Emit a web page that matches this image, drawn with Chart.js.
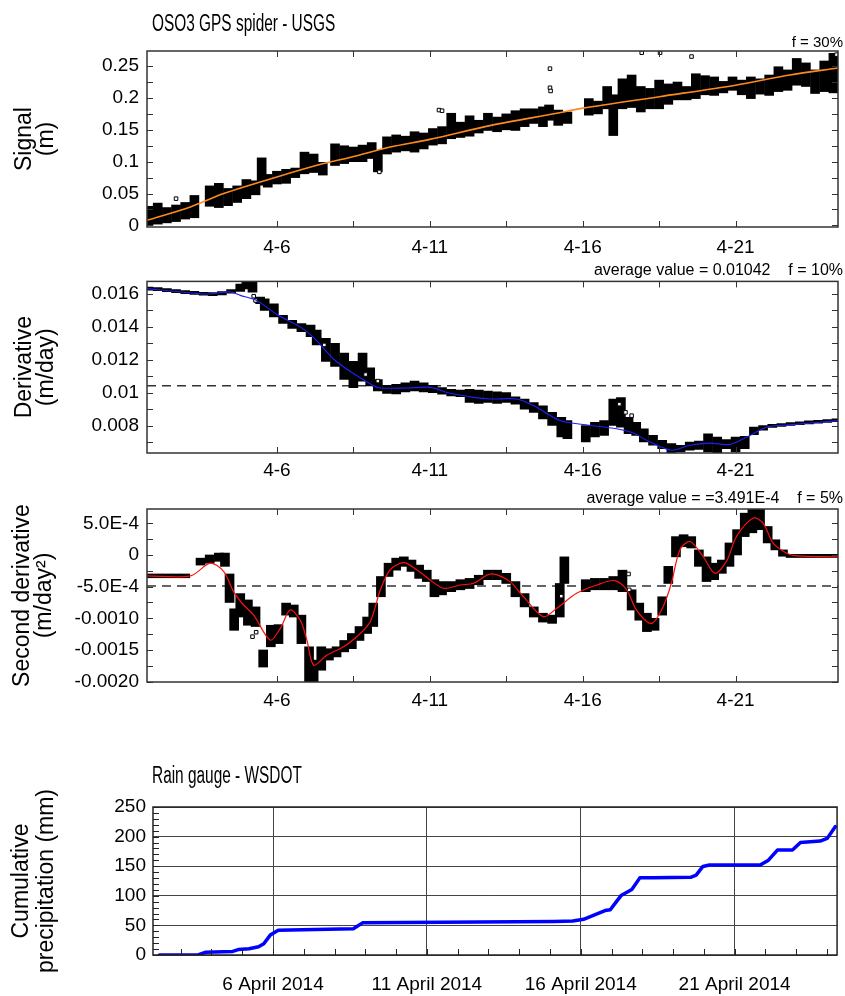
<!DOCTYPE html>
<html>
<head>
<meta charset="utf-8">
<title>OSO3 GPS spider - USGS</title>
<script src="https://cdn.jsdelivr.net/npm/chart.js@4.4.1/dist/chart.umd.min.js"></script>
<style>
  html, body { margin: 0; padding: 0; background: #fff; }
  #page { position: relative; width: 845px; height: 996px; overflow: hidden; }
  #page canvas { position: absolute; left: 0; }
</style>
</head>
<body>
<div id="page">
  <canvas id="signal-chart" width="845" height="262" style="top:0px"></canvas>
  <canvas id="derivative-chart" width="845" height="226" style="top:262px"></canvas>
  <canvas id="second-chart" width="845" height="222" style="top:488px"></canvas>
  <canvas id="rain-chart" width="845" height="286" style="top:710px"></canvas>
</div>
<script>
// time axis: day of April 2014
var gpsDayMin = 1.75, gpsDayMax = 24.35;
var rainDayMin = 2.1, rainDayMax = 24.33;
var gpsXTicks = [6, 8.5, 11, 13.5, 16, 18.5, 21];
var gpsXLabelDays = [6, 11, 16, 21];
var gpsXLabels = ['4-6', '4-11', '4-16', '4-21'];
var rainXTicks = [3, 4, 5, 6, 7, 8, 9, 10, 11, 12, 13, 14, 15, 16, 17, 18, 19, 20, 21, 22, 23, 24];
var rainXLabels = ['6 April 2014', '11 April 2014', '16 April 2014', '21 April 2014'];

// --- signal (m) ---
var signalFitDays = [1.75, 3.17, 4.26, 6.0, 7.52, 8.45, 9.7, 11.0, 13.0, 15.15, 16.0, 18.5, 21.0, 22.77, 24.35];
var signalFit = [0.008, 0.029, 0.050, 0.076, 0.097, 0.1075, 0.123, 0.135, 0.157, 0.176, 0.184, 0.202, 0.220, 0.236, 0.247];
var signalDays = [1.8, 2.1, 2.4, 2.7, 3.0, 3.3, 3.8, 4.1, 4.4, 4.7, 5.0, 5.3, 5.5, 5.7, 6.0, 6.3, 6.6, 6.9, 7.2, 7.5, 7.9, 8.2, 8.5, 8.8, 9.1, 9.3, 9.6, 9.9, 10.2, 10.5, 10.8, 11.1, 11.4, 11.7, 12.0, 12.3, 12.6, 12.9, 13.2, 13.5, 13.8, 14.1, 14.4, 14.7, 14.9, 15.2, 15.5, 16.2, 16.5, 16.8, 17.0, 17.3, 17.6, 17.9, 18.2, 18.5, 18.8, 19.1, 19.4, 19.7, 20.0, 20.3, 20.6, 20.9, 21.2, 21.5, 21.8, 22.1, 22.4, 22.7, 23.0, 23.3, 23.6, 23.9, 24.2];
var signalLow = [0.000, 0.002, 0.004, 0.006, 0.010, 0.012, 0.030, 0.028, 0.031, 0.036, 0.042, 0.048, 0.063, 0.060, 0.065, 0.066, 0.075, 0.081, 0.083, 0.079, 0.094, 0.097, 0.100, 0.100, 0.105, 0.084, 0.112, 0.115, 0.117, 0.115, 0.120, 0.126, 0.128, 0.136, 0.138, 0.140, 0.145, 0.149, 0.147, 0.150, 0.149, 0.155, 0.160, 0.155, 0.165, 0.157, 0.160, 0.173, 0.175, 0.183, 0.141, 0.183, 0.185, 0.178, 0.183, 0.183, 0.190, 0.197, 0.197, 0.199, 0.205, 0.204, 0.208, 0.212, 0.205, 0.199, 0.206, 0.204, 0.210, 0.212, 0.220, 0.218, 0.207, 0.210, 0.208];
var signalHigh = [0.030, 0.035, 0.028, 0.032, 0.036, 0.047, 0.062, 0.066, 0.058, 0.062, 0.072, 0.070, 0.106, 0.080, 0.085, 0.088, 0.090, 0.115, 0.112, 0.099, 0.128, 0.125, 0.123, 0.126, 0.130, 0.118, 0.139, 0.142, 0.140, 0.147, 0.145, 0.152, 0.155, 0.176, 0.162, 0.172, 0.165, 0.176, 0.170, 0.175, 0.180, 0.183, 0.183, 0.186, 0.189, 0.181, 0.178, 0.199, 0.195, 0.218, 0.205, 0.230, 0.236, 0.218, 0.215, 0.228, 0.222, 0.225, 0.218, 0.238, 0.235, 0.233, 0.226, 0.233, 0.228, 0.233, 0.230, 0.236, 0.249, 0.244, 0.262, 0.255, 0.244, 0.258, 0.270];
var signalOddDays = [2.7, 9.35, 11.3, 11.4, 14.93, 14.93, 14.95, 17.93, 18.53, 19.56, 24.3];
var signalOdd = [0.042, 0.084, 0.181, 0.180, 0.246, 0.216, 0.211, 0.271, 0.271, 0.265, 0.268];
var signalTicks = [0, 0.025, 0.05, 0.075, 0.1, 0.125, 0.15, 0.175, 0.2, 0.225, 0.25];
var signalLabelVals = [0, 0.05, 0.1, 0.15, 0.2, 0.25];
var signalLabels = ['0', '0.05', '0.1', '0.15', '0.2', '0.25'];

// --- derivative (m/day) ---
var derivFitDays = [1.75, 2.62, 3.71, 4.48, 4.8, 5.35, 6.0, 6.77, 7.2, 7.86, 8.45, 9.16, 9.38, 10.25, 11.01, 11.67, 12.43, 13.0, 13.84, 14.39, 15.26, 16.02, 17.11, 17.65, 18.2, 18.9, 19.5, 20.16, 20.81, 21.47, 22.01, 22.77, 24.35];
var derivFit = [0.01632, 0.01616, 0.01599, 0.01612, 0.01591, 0.01559, 0.01475, 0.01398, 0.01334, 0.01203, 0.01122, 0.01042, 0.01028, 0.01028, 0.01032, 0.00996, 0.00971, 0.00961, 0.00961, 0.00921, 0.0083, 0.00806, 0.0078, 0.00754, 0.0070, 0.0065, 0.0068, 0.00693, 0.00685, 0.0074, 0.0079, 0.00804, 0.0083];
var derivDays = [1.8, 2.1, 2.4, 2.7, 3.0, 3.3, 3.6, 3.9, 4.2, 4.5, 4.8, 5.0, 5.2, 5.45, 5.6, 5.9, 6.2, 6.5, 6.8, 7.1, 7.3, 7.6, 7.9, 8.2, 8.5, 8.8, 9.05, 9.3, 9.6, 9.9, 10.2, 10.5, 10.8, 11.1, 11.4, 11.7, 12.0, 12.3, 12.6, 12.9, 13.2, 13.5, 13.8, 14.1, 14.4, 14.7, 15.0, 15.3, 15.5, 16.1, 16.4, 16.7, 17.0, 17.25, 17.5, 17.75, 18.0, 18.3, 18.6, 18.9, 19.2, 19.5, 19.8, 20.1, 20.4, 20.7, 21.0, 21.3, 21.6, 21.9, 22.2, 22.5, 22.8, 23.1, 23.4, 23.7, 24.0, 24.3];
var derivLow = [0.01622, 0.01620, 0.01614, 0.01608, 0.01602, 0.01597, 0.01592, 0.01590, 0.01594, 0.01604, 0.01615, 0.01630, 0.01610, 0.01540, 0.01500, 0.01460, 0.01420, 0.01390, 0.01370, 0.01340, 0.01290, 0.01190, 0.01160, 0.01080, 0.01030, 0.01070, 0.01040, 0.01010, 0.00995, 0.00992, 0.01005, 0.01010, 0.01005, 0.01000, 0.00990, 0.00980, 0.00975, 0.00940, 0.00935, 0.00940, 0.00935, 0.00940, 0.00930, 0.00900, 0.00880, 0.00840, 0.00800, 0.00730, 0.00720, 0.00700, 0.00730, 0.00740, 0.00800, 0.00790, 0.00750, 0.00740, 0.00700, 0.00680, 0.00660, 0.00634, 0.00640, 0.00650, 0.00655, 0.00640, 0.00634, 0.00660, 0.00640, 0.00660, 0.00745, 0.00772, 0.00788, 0.00794, 0.00800, 0.00805, 0.00810, 0.00814, 0.00819, 0.00823];
var derivHigh = [0.01642, 0.01638, 0.01632, 0.01626, 0.01620, 0.01615, 0.01610, 0.01608, 0.01614, 0.01626, 0.01660, 0.01680, 0.01676, 0.01580, 0.01570, 0.01540, 0.01470, 0.01440, 0.01420, 0.01410, 0.01380, 0.01330, 0.01300, 0.01240, 0.01190, 0.01240, 0.01150, 0.01080, 0.01045, 0.01050, 0.01060, 0.01070, 0.01060, 0.01045, 0.01030, 0.01020, 0.01015, 0.01020, 0.01015, 0.01010, 0.01005, 0.01000, 0.00975, 0.00960, 0.00940, 0.00920, 0.00880, 0.00850, 0.00830, 0.00800, 0.00820, 0.00830, 0.00960, 0.00970, 0.00850, 0.00820, 0.00780, 0.00740, 0.00710, 0.00690, 0.00680, 0.00700, 0.00705, 0.00750, 0.00730, 0.00715, 0.00730, 0.00735, 0.00790, 0.00800, 0.00808, 0.00812, 0.00818, 0.00823, 0.00828, 0.00832, 0.00836, 0.00840];
var derivOddDays = [5.24, 5.3, 7.55, 8.9, 9.3, 17.2, 17.4, 17.6];
var derivOdd = [0.01586, 0.01560, 0.01290, 0.01110, 0.01070, 0.00930, 0.00880, 0.00860];
var derivAverage = 0.01042;
var derivTicks = [0.007, 0.008, 0.009, 0.010, 0.011, 0.012, 0.013, 0.014, 0.015, 0.016];
var derivLabelVals = [0.008, 0.010, 0.012, 0.014, 0.016];
var derivLabels = ['0.008', '0.01', '0.012', '0.014', '0.016'];

// --- second derivative, values in 1E-3 m/day^2 ---
var secondFitDays = [1.75, 3.17, 3.82, 4.26, 4.58, 4.91, 5.24, 5.78, 6.11, 6.43, 6.76, 6.98, 7.2, 7.63, 8.18, 8.61, 9.05, 9.38, 9.7, 10.14, 10.58, 11.01, 11.45, 12.0, 12.43, 13.0, 13.62, 14.06, 14.71, 15.15, 15.8, 16.46, 17.05, 17.44, 17.76, 18.25, 18.63, 18.9, 19.18, 19.51, 19.94, 20.32, 20.7, 21.03, 21.58, 21.9, 22.23, 22.67, 23.0, 24.35];
var secondFitE3 = [-0.331, -0.331, -0.13, -0.262, -0.579, -0.79, -0.949, -1.345, -1.16, -0.87, -1.028, -1.345, -1.741, -1.583, -1.45, -1.292, -1.055, -0.553, -0.236, -0.12, -0.236, -0.394, -0.526, -0.474, -0.447, -0.299, -0.421, -0.658, -0.975, -0.843, -0.606, -0.474, -0.405, -0.553, -0.87, -1.081, -0.817, -0.447, 0.081, 0.213, -0.025, -0.289, -0.104, 0.292, 0.583, 0.503, 0.186, 0.028, -0.014, -0.03];
var secondDays = [1.8, 2.1, 2.4, 2.7, 3.0, 3.5, 3.8, 4.1, 4.3, 4.45, 4.6, 4.8, 5.05, 5.3, 5.55, 5.8, 6.05, 6.3, 6.55, 6.8, 7.05, 7.2, 7.45, 7.7, 7.95, 8.2, 8.45, 8.7, 8.95, 9.15, 9.4, 9.65, 9.9, 10.15, 10.4, 10.65, 10.9, 11.15, 11.4, 11.7, 12.0, 12.3, 12.6, 12.9, 13.2, 13.5, 13.8, 14.1, 14.4, 14.7, 15.0, 15.25, 15.4, 16.1, 16.4, 16.7, 17.0, 17.3, 17.6, 17.85, 18.1, 18.35, 18.6, 18.8, 19.05, 19.3, 19.55, 19.8, 20.05, 20.3, 20.55, 20.8, 21.05, 21.3, 21.55, 21.8, 22.05, 22.3, 22.55, 22.8, 23.1, 23.4, 23.7, 24.0, 24.3];
var secondLowE3 = [-0.36, -0.36, -0.36, -0.36, -0.36, -0.16, -0.13, -0.10, -0.18, -0.75, -1.19, -0.98, -1.11, -1.13, -1.77, -1.45, -1.40, -0.95, -0.98, -1.40, -2.00, -2.00, -1.82, -1.66, -1.61, -1.53, -1.48, -1.35, -1.24, -1.13, -0.66, -0.34, -0.24, -0.18, -0.26, -0.37, -0.42, -0.66, -0.63, -0.58, -0.55, -0.53, -0.47, -0.39, -0.39, -0.45, -0.66, -0.82, -0.98, -1.06, -1.08, -0.98, -0.45, -0.58, -0.55, -0.55, -0.55, -0.58, -0.87, -1.03, -1.21, -1.19, -0.95, -0.45, -0.03, 0.13, 0.11, -0.18, -0.42, -0.39, -0.29, -0.18, 0.00, 0.29, 0.35, 0.40, 0.19, 0.08, -0.02, -0.04, -0.04, -0.04, -0.04, -0.04, -0.04];
var secondHighE3 = [-0.30, -0.30, -0.30, -0.30, -0.30, -0.05, 0.00, 0.03, 0.03, -0.30, -0.85, -0.61, -0.71, -0.82, -1.50, -1.11, -1.10, -0.76, -0.79, -0.95, -1.45, -1.66, -1.45, -1.48, -1.45, -1.35, -1.24, -1.13, -0.98, -0.76, -0.34, -0.13, -0.05, -0.03, -0.08, -0.16, -0.24, -0.39, -0.42, -0.42, -0.39, -0.37, -0.32, -0.24, -0.24, -0.29, -0.42, -0.61, -0.82, -0.92, -0.95, -0.45, -0.03, -0.39, -0.37, -0.37, -0.34, -0.24, -0.55, -0.76, -0.92, -1.00, -0.66, -0.18, 0.29, 0.32, 0.29, 0.08, -0.03, -0.13, -0.08, 0.19, 0.40, 0.66, 0.72, 0.72, 0.45, 0.24, 0.08, 0.01, 0.01, 0.01, 0.01, 0.01, 0.01];
var secondOddDays = [5.2, 5.32, 15.3, 17.5, 17.52];
var secondOddE3 = [-1.29, -1.22, -0.65, -0.30, -0.55];
var secondAverageE3 = -0.49;
var secondTicksE3 = [-2.0, -1.75, -1.5, -1.25, -1.0, -0.75, -0.5, -0.25, 0, 0.25, 0.5];
var secondLabelValsE3 = [-2.0, -1.5, -1.0, -0.5, 0, 0.5];
var secondLabels = ['-0.0020', '-0.0015', '-0.0010', '-5.0E-4', '0', '5.0E-4'];

// --- rain gauge, cumulative precipitation (mm) ---
var rainDays = [2.31, 3.56, 3.82, 4.69, 4.87, 5.22, 5.53, 5.70, 5.91, 6.17, 6.96, 8.61, 8.91, 11.48, 15.14, 15.74, 16.09, 16.35, 16.79, 16.96, 17.14, 17.31, 17.66, 17.92, 18.36, 19.57, 19.75, 19.97, 20.18, 21.83, 22.10, 22.39, 22.88, 23.14, 23.78, 24.01, 24.27];
var rainMm = [0, 0, 4.6, 6, 9.2, 10.6, 13.8, 18.9, 33.6, 41.9, 42.8, 44.2, 54.3, 55.2, 56.6, 57.5, 60.3, 65.8, 75, 76.4, 88.9, 100.4, 110.5, 130.3, 130.3, 131.2, 134.9, 149.6, 151.9, 151.9, 160.2, 177.3, 177.3, 190.1, 192.4, 197, 216.8];
var rainTicks = [0, 10, 20, 30, 40, 50, 60, 70, 80, 90, 100, 110, 120, 130, 140, 150, 160, 170, 180, 190, 200, 210, 220, 230, 240, 250];
var rainLabelVals = [0, 50, 100, 150, 200, 250];
var rainLabels = ['0', '50', '100', '150', '200', '250'];

var SANS = '"Liberation Sans", Arial, sans-serif';

function e3(list) {
    return list.map(function (v) { return v / 1000; });
}

function points(xs, ys) {
    return xs.map(function (x, i) { return {x: x, y: ys[i]}; });
}

function ranges(xs, lo, hi) {
    return xs.map(function (x, i) { return {x: x, y: [lo[i], hi[i]]}; });
}

function labelFor(vals, texts) {
    return function (value) {
        for (var i = 0; i < vals.length; i++) {
            if (Math.abs(value - vals[i]) < 1e-9) return texts[i];
        }
        return '';
    };
}

// titles and notes; sx squeezes the text sideways like the narrow face of the original
var panelText = {
    id: 'panelText',
    afterDraw: function (chart, args, opts) {
        var ctx = chart.ctx;
        (opts.items || []).forEach(function (t) {
            ctx.save();
            ctx.font = t.font;
            ctx.fillStyle = '#000';
            ctx.textAlign = t.align;
            ctx.textBaseline = 'alphabetic';
            ctx.translate(t.x, t.y);
            ctx.scale(t.sx || 1, 1);
            ctx.fillText(t.text, 0, 0);
            ctx.restore();
        });
    }
};

// frame round the plot and small inward tick marks, like the original plotting tool
var frameTicks = {
    id: 'frameTicks',
    afterDatasetsDraw: function (chart, args, opts) {
        var ctx = chart.ctx, a = chart.chartArea, xs = chart.scales.x, ys = chart.scales.y;
        var len = opts.len || 6;
        ctx.save();
        ctx.strokeStyle = opts.color || '#333';
        ctx.lineWidth = 1;
        ctx.beginPath();
        ys.ticks.forEach(function (t) {
            var py = Math.round(ys.getPixelForValue(t.value)) + 0.5;
            if (opts.left) { ctx.moveTo(a.left, py); ctx.lineTo(a.left + len, py); }
            if (opts.right) { ctx.moveTo(a.right, py); ctx.lineTo(a.right - len, py); }
        });
        xs.ticks.forEach(function (t) {
            var px = Math.round(xs.getPixelForValue(t.value)) + 0.5;
            if (opts.bottom) { ctx.moveTo(px, a.bottom); ctx.lineTo(px, a.bottom - len); }
            if (opts.top) { ctx.moveTo(px, a.top); ctx.lineTo(px, a.top + len); }
        });
        ctx.stroke();
        ctx.lineWidth = opts.width || 1.5;
        ctx.strokeRect(a.left, a.top, a.right - a.left, a.bottom - a.top);
        ctx.restore();
    }
};

function panel(canvasId, p) {
    var canvas = document.getElementById(canvasId);
    var h = canvas.height;
    var yLabel = labelFor(p.yLabelVals, p.yLabels);
    return new Chart(canvas, {
        type: 'scatter',
        data: {datasets: p.datasets},
        options: {
            responsive: false,
            animation: false,
            devicePixelRatio: 1,
            events: [],
            layout: {padding: {left: 0, right: 845 - p.area[1], top: p.area[2], bottom: 0}},
            plugins: {
                legend: {display: false},
                tooltip: {enabled: false},
                title: {display: false},
                panelText: {items: p.texts},
                frameTicks: p.frame
            },
            scales: {
                x: {
                    type: 'linear',
                    min: p.xMin,
                    max: p.xMax,
                    offset: false,
                    border: {display: false},
                    grid: {
                        display: !!p.grid, drawTicks: false, offset: false, lineWidth: 1,
                        color: function (c) {
                            return p.xLabelVals.indexOf(c.tick.value) >= 0 ? '#444' : 'rgba(0,0,0,0)';
                        }
                    },
                    ticks: {
                        autoSkip: false, maxRotation: 0, padding: p.xPad, color: '#000',
                        font: {family: SANS, size: 19},
                        callback: labelFor(p.xLabelVals, p.xLabels)
                    },
                    afterBuildTicks: function (s) {
                        s.ticks = p.xTicks.map(function (v) { return {value: v}; });
                    },
                    afterFit: function (s) { s.height = h - p.area[3]; }
                },
                y: {
                    type: 'linear',
                    min: p.yMin,
                    max: p.yMax,
                    border: {display: false},
                    grid: {
                        display: !!p.grid, drawTicks: false, lineWidth: 1,
                        color: function (c) {
                            return yLabel(c.tick.value) !== '' ? '#444' : 'rgba(0,0,0,0)';
                        }
                    },
                    ticks: {
                        autoSkip: false, padding: p.yPad, color: '#000',
                        font: {family: SANS, size: 19},
                        callback: yLabel
                    },
                    title: {
                        display: true,
                        text: p.yTitle,
                        color: '#000',
                        font: {family: SANS, size: 23, lineHeight: p.titleLine},
                        padding: {top: p.titlePad, bottom: 0}
                    },
                    afterBuildTicks: function (s) {
                        s.ticks = p.yTicks.map(function (v) { return {value: v}; });
                    },
                    afterFit: function (s) { s.width = p.area[0]; }
                }
            }
        },
        plugins: [panelText, frameTicks]
    });
}

function cloud(xs, lo, hi) {
    return {type: 'bar', data: ranges(xs, lo, hi), backgroundColor: '#000', borderWidth: 0,
        barThickness: 9, grouped: false, order: 2};
}

function odd(xs, ys) {
    return {type: 'scatter', data: points(xs, ys), pointStyle: 'rect', pointRadius: 2.5,
        backgroundColor: '#fff', borderColor: '#000', borderWidth: 1, order: 1};
}

function fit(xs, ys, color, width) {
    return {type: 'line', data: points(xs, ys), borderColor: color, borderWidth: width,
        pointRadius: 0, tension: 0.3, fill: false, order: 0};
}

function average(value) {
    return {type: 'line', data: points([gpsDayMin, gpsDayMax], [value, value]), borderColor: '#333',
        borderWidth: 1.5, borderDash: [9, 6], pointRadius: 0, fill: false, order: 3};
}

panel('signal-chart', {
    area: [147, 838, 51, 227],
    xMin: gpsDayMin, xMax: gpsDayMax, xTicks: gpsXTicks, xLabelVals: gpsXLabelDays, xLabels: gpsXLabels, xPad: 9,
    yMin: -0.0025, yMax: 0.2737, yTicks: signalTicks, yLabelVals: signalLabelVals, yLabels: signalLabels, yPad: 8,
    yTitle: ['Signal', '(m)'], titlePad: 14, titleLine: 0.95,
    frame: {left: true, right: true, top: true, bottom: true},
    texts: [
        {text: 'OSO3 GPS spider - USGS', x: 152, y: 31, align: 'left', font: '23px ' + SANS, sx: 0.67},
        {text: 'f = 30%', x: 843, y: 47, align: 'right', font: '15px ' + SANS}
    ],
    datasets: [
        fit(signalFitDays, signalFit, '#ff8a1c', 1.6),
        odd(signalOddDays, signalOdd),
        cloud(signalDays, signalLow, signalHigh)
    ]
});

panel('derivative-chart', {
    area: [147, 838, 18, 191],
    xMin: gpsDayMin, xMax: gpsDayMax, xTicks: gpsXTicks, xLabelVals: gpsXLabelDays, xLabels: gpsXLabels, xPad: 6,
    yMin: 0.00633, yMax: 0.01676, yTicks: derivTicks, yLabelVals: derivLabelVals, yLabels: derivLabels, yPad: 8,
    yTitle: ['Derivative', '(m/day)'], titlePad: 14, titleLine: 0.95,
    frame: {left: true, right: true, top: true, bottom: true},
    texts: [
        {text: 'average value = 0.01042    f = 10%', x: 843, y: 13, align: 'right', font: '16px ' + SANS}
    ],
    datasets: [
        fit(derivFitDays, derivFit, '#1f1fff', 1.1),
        odd(derivOddDays, derivOdd),
        cloud(derivDays, derivLow, derivHigh),
        average(derivAverage)
    ]
});

panel('second-chart', {
    area: [147, 838, 21, 194],
    xMin: gpsDayMin, xMax: gpsDayMax, xTicks: gpsXTicks, xLabelVals: gpsXLabelDays, xLabels: gpsXLabels, xPad: 7,
    yMin: -0.002006, yMax: 0.000726, yTicks: e3(secondTicksE3), yLabelVals: e3(secondLabelValsE3), yLabels: secondLabels, yPad: 8,
    yTitle: ['Second derivative', '(m/day\u00b2)'], titlePad: 12, titleLine: 0.95,
    frame: {left: true, right: true, top: true, bottom: true},
    texts: [
        {text: 'average value = =3.491E-4    f = 5%', x: 843, y: 15, align: 'right', font: '16px ' + SANS}
    ],
    datasets: [
        fit(secondFitDays, e3(secondFitE3), '#ff1010', 1.2),
        odd(secondOddDays, e3(secondOddE3)),
        cloud(secondDays, e3(secondLowE3), e3(secondHighE3)),
        average(secondAverageE3 / 1000)
    ]
});

panel('rain-chart', {
    area: [153, 840, 97, 245],
    xMin: rainDayMin, xMax: rainDayMax, xTicks: rainXTicks, xLabelVals: gpsXLabelDays, xLabels: rainXLabels, xPad: 18,
    yMin: 0, yMax: 250, yTicks: rainTicks, yLabelVals: rainLabelVals, yLabels: rainLabels, yPad: 7,
    yTitle: ['Cumulative', 'precipitation (mm)'], titlePad: 10, titleLine: 1.05,
    grid: true,
    frame: {left: true, right: false, top: false, bottom: true, color: '#222', width: 1.5},
    texts: [
        {text: 'Rain gauge - WSDOT', x: 152, y: 73, align: 'left', font: '23px ' + SANS, sx: 0.67}
    ],
    datasets: [
        {type: 'line', data: points(rainDays, rainMm), borderColor: '#0000ff', borderWidth: 3.5,
            pointRadius: 0, tension: 0, fill: false, borderJoinStyle: 'round', borderCapStyle: 'round', order: 0}
    ]
});
</script>
</body>
</html>
